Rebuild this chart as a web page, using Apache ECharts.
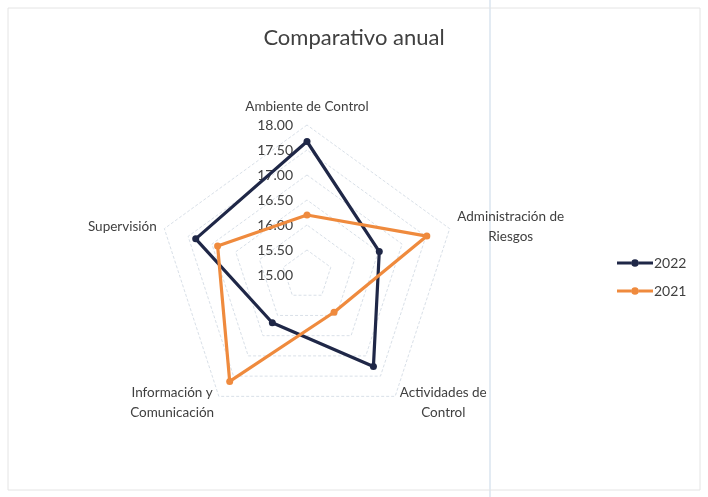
<!DOCTYPE html>
<html>
<head>
<meta charset="utf-8">
<script src="https://cdn.jsdelivr.net/npm/echarts@6/dist/echarts.min.js"></script>
<style>
  html, body { margin: 0; padding: 0; background: #fff; }
  #radarChart { width: 708px; height: 497px; }
</style>
</head>
<body>
<div id="radarChart"></div>
<script>
// categories, clockwise from the top
const categories = ['Ambiente de Control', 'Administración de\nRiesgos', 'Actividades de\nControl', 'Información y\nComunicación', 'Supervisión']
const seriesNames = ['2022', '2021']
const values2022 = [17.67, 16.52, 17.26, 16.18, 17.34]
const values2021 = [16.20, 17.52, 15.92, 17.63, 16.88]
const axisMin = 15
const axisMax = 18

const chartDom = document.getElementById('radarChart')
const radarChart = echarts.init(chartDom)

const fontFamily = 'Lato, "Open Sans", sans-serif'
const textColor = '#404040'

// echarts lays radar indicators out counter-clockwise, so walk the list backwards
const order = [0, 4, 3, 2, 1]
const pick = arr => order.map(i => arr[i])

const option = {
  backgroundColor: '#fff',
  color: ['#1f2747', '#ef8a3d'],
  title: {
    text: 'Comparativo anual',
    left: 'center',
    top: 22,
    textStyle: {
      fontFamily: fontFamily,
      fontWeight: 'normal',
      fontSize: 22,
      color: textColor
    }
  },
  legend: {
    orient: 'vertical',
    left: 612,
    top: 251,
    itemGap: 14,
    itemWidth: 36,
    itemHeight: 10,
    textStyle: {
      fontFamily: fontFamily,
      fontSize: 14,
      color: textColor,
      padding: [0, 0, 0, -4]
    },
    data: seriesNames.map(name => ({
      name: name,
      icon: 'path://M0,4h12v2.4h-12z M12,5.2a3.2,3.2 0 1,0 6.4,0a3.2,3.2 0 1,0 -6.4,0z M18.4,4h12v2.4h-12z'
    }))
  },
  graphic: [
    {
      type: 'rect',
      shape: { x: 8, y: 8, width: 692, height: 482 },
      style: { fill: 'none', stroke: '#e4e4e4', lineWidth: 1 },
      silent: true
    },
    {
      type: 'line',
      shape: { x1: 490, y1: 0, x2: 490, y2: 497 },
      style: { stroke: '#e3ebf3', lineWidth: 2 },
      silent: true,
      z: -1
    }
  ],
  radar: {
    center: [307, 275],
    radius: 150,
    startAngle: 90,
    splitNumber: 6,
    shape: 'polygon',
    axisNameGap: 8,
    axisName: {
      color: textColor,
      fontFamily: fontFamily,
      fontSize: 13.5,
      lineHeight: 20,
      formatter: name => name.split('\n').map(s => '{c|' + s + '}').join('\n'),
      rich: {
        c: { align: 'center', fontFamily: fontFamily, fontSize: 13.5, color: textColor, lineHeight: 20 }
      }
    },
    axisLine: { show: false },
    axisTick: { show: false },
    axisLabel: { show: false },
    splitArea: { show: false },
    splitLine: {
      lineStyle: { color: '#d9e0e8', type: [3, 2], width: 1 }
    },
    indicator: pick(categories).map((name, i) => {
      const ind = { name: name, min: axisMin, max: axisMax }
      if (i === 0) {
        ind.axisLabel = {
          show: true,
          showMinLabel: true,
          color: textColor,
          fontFamily: fontFamily,
          fontSize: 14,
          margin: 14,
          formatter: v => Number(v).toFixed(2)
        }
      }
      return ind
    })
  },
  series: [
    {
      type: 'radar',
      symbol: 'circle',
      symbolSize: 7,
      lineStyle: { width: 3.2 },
      data: [
        { name: seriesNames[0], value: pick(values2022) },
        { name: seriesNames[1], value: pick(values2021) }
      ]
    }
  ]
}

option && radarChart.setOption(option)
</script>
</body>
</html>
